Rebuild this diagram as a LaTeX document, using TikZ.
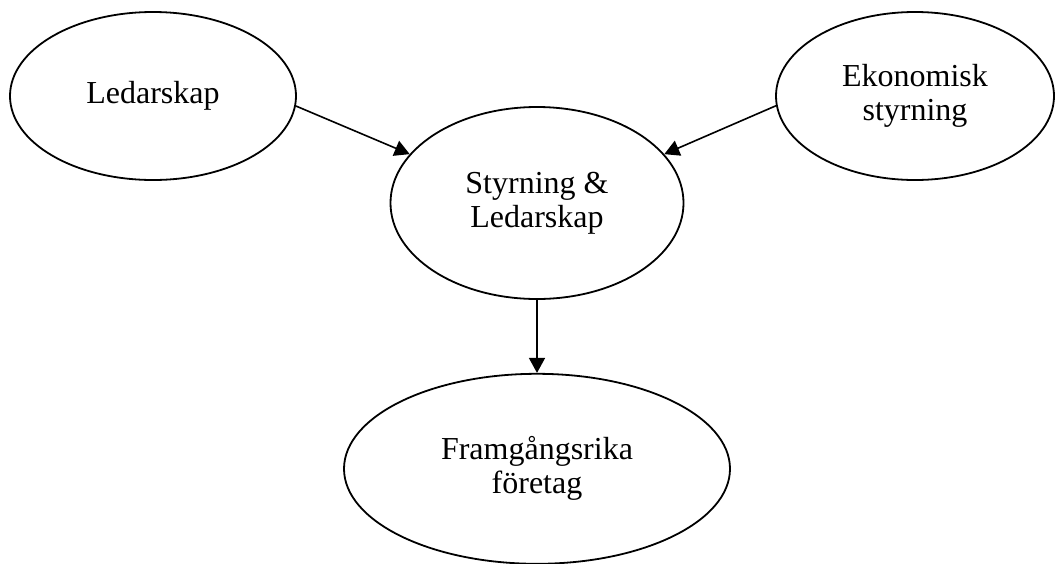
\documentclass[tikz,border=0pt]{standalone}
\usepackage{fontspec}
\setmainfont{Liberation Serif}
\usetikzlibrary{shapes.geometric,positioning,arrows.meta}
\newlength\pix
\setlength\pix{0.5pt}
\newcommand\gap{73\pix}

\begin{document}
\begin{tikzpicture}[x=\pix,y=-\pix,
  blob/.style={draw, ellipse, line width=0.9pt, inner sep=0pt, align=center,
    font=\fontsize{16}{17}\selectfont},
  arr/.style={-{Triangle[length=7.5pt,width=8pt]}, line width=0.8pt}]
  \useasboundingbox (0,0) rectangle (1060,563);
  % the two causes
  \node [blob, minimum width=286\pix, minimum height=168\pix] (led) at (153,96) {Ledarskap};
  \node [blob, minimum width=278\pix, minimum height=168\pix] (eko) at (915,96) {Ekonomisk\\styrning};
  % centre and outcome
  \node [blob, minimum width=293\pix, minimum height=192\pix] (sty) at (537,203) {Styrning \&\\Ledarskap};
  \node [blob, minimum width=386\pix, minimum height=190\pix, below=\gap of sty] (fram) {Framgångsrika\\företag};

  \draw [arr] (led.-4) -- (sty.159);
  \draw [arr] (eko.-176) -- (sty.21);
  \draw [arr] (sty.south) -- (fram.north);
\end{tikzpicture}
\end{document}
